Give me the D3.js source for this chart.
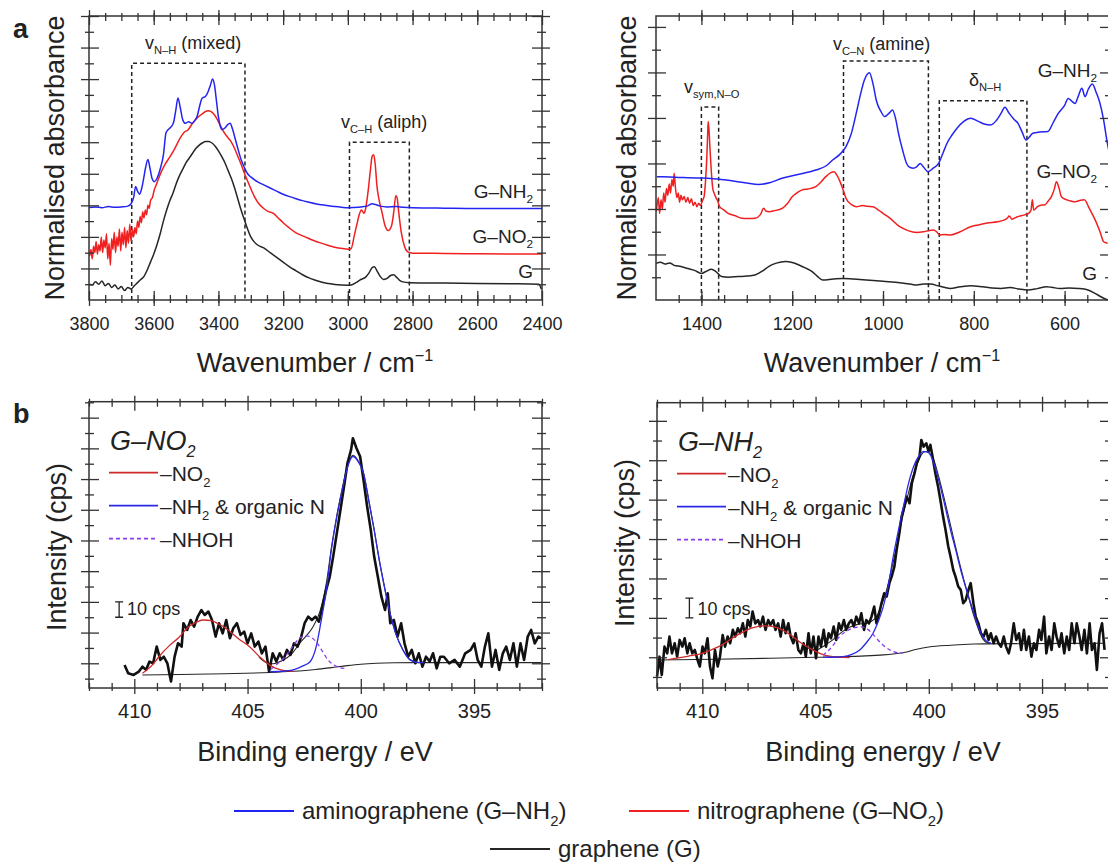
<!DOCTYPE html>
<html>
<head>
<meta charset="utf-8">
<title>FTIR and XPS of graphene derivatives</title>
<style>
body { margin: 0; background: #fff; }
text { font-family: "Liberation Sans", Arial, Helvetica, sans-serif; fill: #222; }
.frame { fill: none; stroke: #333; stroke-width: 1.5px; }
.tk line { stroke: #333; stroke-width: 1.3px; }
.box { fill: none; stroke: #222; stroke-width: 1.5px; stroke-dasharray: 4,3; }
.curve { fill: none; stroke-linejoin: round; }
</style>
</head>
<body>
<script src="https://cdnjs.cloudflare.com/ajax/libs/d3/7.8.5/d3.min.js"></script>
<script>

// ---------- data: FTIR, high wavenumber window (cm-1, normalised absorbance) ----------
var irHighNH2 = [[3800,5.86],[3780,5.9],[3760,5.85],[3740,5.92],[3720,5.88],[3700,5.9],[3680,5.95],[3670,6.1],[3662,6.5],[3656,7.2],[3650,6.9],[3644,6.7],[3638,7.0],[3632,7.6],[3625,8.4],[3618,8.9],[3612,8.4],[3605,7.7],[3598,7.5],[3590,7.7],[3580,8.3],[3570,9.2],[3562,10.6],[3555,10.8],[3545,11.0],[3538,11.3],[3532,12.0],[3525,12.8],[3518,12.2],[3510,11.4],[3502,11.2],[3492,11.3],[3482,11.2],[3472,11.4],[3465,11.7],[3458,12.3],[3450,12.8],[3440,12.9],[3432,13.2],[3425,13.6],[3418,14.0],[3412,13.6],[3406,12.6],[3400,11.6],[3394,11.0],[3388,10.8],[3380,10.9],[3372,11.1],[3364,11.2],[3356,10.8],[3348,10.2],[3340,9.6],[3330,8.9],[3320,8.4],[3310,8.0],[3300,7.8],[3280,7.5],[3260,7.3],[3240,7.1],[3220,6.9],[3200,6.7],[3180,6.55],[3160,6.42],[3140,6.3],[3120,6.2],[3100,6.1],[3080,6.03],[3060,5.97],[3040,5.92],[3020,5.88],[3000,5.85],[2980,5.87],[2960,5.9],[2940,5.95],[2925,6.1],[2915,6.05],[2900,5.95],[2880,5.9],[2850,5.92],[2830,5.88],[2800,5.85],[2700,5.82],[2600,5.8],[2500,5.8],[2400,5.8]];
var irHighNO2 = [[3798,2.8],[3794,3.2],[3790,2.6],[3786,3.4],[3782,3.0],[3778,3.7],[3774,2.9],[3770,3.5],[3766,3.1],[3762,4.0],[3758,3.0],[3754,3.8],[3750,3.3],[3746,4.2],[3742,2.6],[3738,3.6],[3734,2.2],[3730,3.9],[3726,3.2],[3722,4.3],[3718,3.0],[3714,4.0],[3710,3.4],[3706,4.5],[3702,3.1],[3698,4.3],[3694,3.5],[3690,4.6],[3686,3.3],[3682,4.4],[3678,3.6],[3674,4.8],[3670,3.7],[3666,4.5],[3662,4.0],[3658,4.6],[3654,4.2],[3650,5.0],[3646,4.6],[3642,5.3],[3638,4.9],[3634,5.6],[3630,5.2],[3626,5.7],[3622,5.4],[3618,6.0],[3614,5.8],[3610,6.3],[3604,6.5],[3598,7.0],[3594,7.2],[3585,7.7],[3575,8.2],[3565,8.6],[3550,9.07],[3535,9.6],[3520,10.2],[3505,10.65],[3495,10.76],[3480,11.2],[3465,11.55],[3450,11.8],[3440,11.95],[3432,12.0],[3424,11.95],[3415,11.8],[3405,11.5],[3395,11.1],[3385,10.7],[3375,10.4],[3363,10.1],[3350,9.6],[3340,9.1],[3330,8.6],[3319,8.0],[3305,7.3],[3290,6.6],[3275,6.1],[3260,5.8],[3245,5.6],[3231,5.5],[3215,5.2],[3200,4.9],[3180,4.55],[3160,4.25],[3132,4.0],[3110,3.8],[3090,3.65],[3060,3.45],[3030,3.3],[3000,3.22],[2990,3.25],[2980,4.1],[2972,4.8],[2965,5.4],[2958,5.7],[2950,5.5],[2945,5.8],[2938,6.8],[2930,8.3],[2925,9.1],[2920,9.2],[2915,8.5],[2910,7.2],[2903,6.3],[2895,5.6],[2885,4.7],[2875,4.4],[2865,4.7],[2858,5.6],[2852,6.6],[2848,6.5],[2843,5.6],[2835,4.3],[2825,3.4],[2815,3.05],[2800,2.97],[2700,2.95],[2600,2.93],[2500,2.92],[2400,2.92]];
var irHighG = [[3800,1.0],[3790,0.95],[3780,1.15],[3770,1.0],[3760,1.2],[3750,0.9],[3740,1.05],[3730,0.8],[3720,0.95],[3710,0.7],[3700,0.85],[3690,0.6],[3680,0.8],[3670,0.7],[3660,0.9],[3650,1.1],[3640,1.3],[3630,1.5],[3620,1.9],[3610,2.4],[3600,2.9],[3590,3.5],[3580,4.2],[3570,5.0],[3560,5.7],[3550,6.3],[3540,6.8],[3530,7.4],[3520,7.9],[3510,8.3],[3500,8.7],[3490,9.0],[3480,9.3],[3470,9.6],[3460,9.8],[3450,9.95],[3440,10.05],[3430,10.05],[3420,9.95],[3410,9.75],[3400,9.45],[3390,9.1],[3380,8.7],[3370,8.2],[3360,7.7],[3350,7.1],[3340,6.4],[3330,5.7],[3320,5.1],[3310,4.5],[3300,4.0],[3290,3.7],[3280,3.5],[3260,3.3],[3240,3.0],[3220,2.7],[3200,2.4],[3180,2.1],[3160,1.85],[3140,1.6],[3120,1.4],[3100,1.25],[3080,1.12],[3060,1.04],[3040,0.98],[3020,0.95],[3000,0.94],[2990,0.95],[2975,1.1],[2960,1.3],[2945,1.45],[2935,1.7],[2925,2.05],[2918,2.1],[2910,1.85],[2900,1.5],[2890,1.3],[2880,1.35],[2868,1.55],[2858,1.6],[2850,1.45],[2840,1.25],[2830,1.15],[2810,1.1],[2700,1.07],[2600,1.05],[2500,1.03],[2410,1.0],[2402,0.7]];

// ---------- FTIR, low wavenumber window ----------
var irLowNH2 = [[1498,5.42],[1470,5.4],[1440,5.38],[1410,5.36],[1385.6,5.35],[1350,5.28],[1320,5.2],[1300,5.14],[1274,5.08],[1250,5.15],[1222.4,5.35],[1190,5.5],[1148,5.71],[1125,5.9],[1111,6.15],[1095,6.4],[1081.5,6.74],[1070,7.3],[1059,8.2],[1050,9.0],[1041,9.67],[1030,9.99],[1022,9.5],[1015,8.79],[1005,8.3],[996,8.06],[987,8.2],[979,8.35],[972,7.95],[966,7.33],[957,6.6],[948,6.0],[940,5.82],[933,5.79],[926,5.85],[918,6.0],[910,5.82],[901,5.64],[890,5.78],[877.6,6.0],[868,6.45],[859,6.89],[848,7.25],[837,7.55],[822,7.85],[807,7.99],[790,7.85],[775,7.72],[763,7.69],[750,7.9],[740,8.2],[731.5,8.47],[722,8.2],[712,7.95],[703,7.77],[694,7.4],[685,7.03],[678,7.15],[670,7.33],[655,7.38],[637,7.4],[625,7.8],[614,8.2],[600,8.55],[592,8.86],[585,8.75],[577,8.64],[570,8.95],[562,9.3],[555,8.94],[548,9.25],[539,9.49],[530,9.1],[522,8.64],[514,7.9],[507,7.03],[503,6.6]];
var irLowNO2 = [[1499,3.9],[1495,4.5],[1492,3.8],[1489,4.4],[1486,4.0],[1483,4.7],[1480,4.3],[1477,4.9],[1474,4.6],[1471,5.1],[1468,4.7],[1465,5.3],[1462,5.0],[1460,5.57],[1457,4.9],[1454,4.5],[1451,4.7],[1448,4.3],[1445,4.6],[1442,4.4],[1438,4.55],[1434,4.3],[1430,4.5],[1426,4.25],[1422,4.45],[1418,4.15],[1414,4.3],[1410,4.1],[1406,4.25],[1402,4.15],[1398,4.35],[1394,4.55],[1391,5.2],[1388,6.3],[1386,7.4],[1385,7.84],[1383,7.4],[1381,6.6],[1378,5.6],[1375,4.9],[1372,4.7],[1368,4.5],[1364,4.35],[1360,4.1],[1350,3.95],[1341,3.81],[1325,3.7],[1311,3.59],[1296,3.58],[1282,3.59],[1270,3.75],[1263,4.03],[1257,3.9],[1250,3.88],[1240,3.92],[1222,4.03],[1210,4.25],[1200,4.54],[1190,4.7],[1178,4.84],[1165,4.88],[1148,4.98],[1136,5.2],[1126,5.42],[1115,5.6],[1107.5,5.64],[1102,5.5],[1096,5.27],[1088,4.85],[1081.5,4.47],[1070,4.2],[1059,4.1],[1045,4.15],[1035,4.12],[1022,4.1],[1010,3.95],[1000,3.81],[985,3.6],[963,3.22],[945,3.05],[926,2.97],[910,3.0],[889,3.08],[882,3.0],[875.4,2.86],[865,2.88],[851.6,2.86],[830,3.0],[807,3.22],[790,3.3],[770,3.38],[748,3.44],[735,3.5],[726,3.6],[722,3.69],[716,3.55],[705,3.65],[688.5,3.74],[680,3.8],[674,3.95],[671,4.4],[668,3.95],[660,4.1],[650,4.18],[644,4.18],[636,4.35],[629,4.54],[623,4.85],[618,5.2],[612,4.9],[607,4.54],[595,4.4],[586,4.35],[577,4.32],[565,4.38],[556.5,4.4],[545,4.0],[532.7,3.52],[522,3.0],[514,2.56],[505,2.49]];
var irLowG = [[1500,1.61],[1490,1.66],[1480,1.58],[1470,1.63],[1460,1.52],[1445,1.47],[1430,1.38],[1415,1.3],[1400,1.17],[1390,1.25],[1378,1.35],[1368,1.25],[1356,1.03],[1340,1.0],[1319,1.03],[1300,1.05],[1282,1.1],[1265,1.28],[1252,1.47],[1235,1.62],[1215,1.69],[1200,1.65],[1185,1.54],[1170,1.4],[1156,1.25],[1145,1.05],[1133,0.88],[1110,0.92],[1089,0.95],[1065,0.92],[1037,0.88],[1000,0.82],[963,0.76],[940,0.7],[926,0.66],[910,0.7],[896,0.7],[875,0.6],[852,0.51],[830,0.58],[807,0.63],[780,0.58],[760,0.53],[740,0.51],[720,0.55],[700,0.48],[681,0.44],[660,0.5],[640,0.58],[629,0.56],[610,0.5],[590,0.53],[570,0.51],[550,0.45],[533,0.29],[518,0.12],[505,0]];

// dashed band boxes [from, to, top]
var irHighBoxes = [[3668, 3318, 15.0], [2995, 2810, 10.0]];
var irLowBoxes = [[1400, 1362, 8.48], [1087, 900, 10.5], [876, 683, 8.76]];

// ---------- XPS N1s, G-NO2 (binding energy eV, cps above baseline) ----------
var xpsNO2Raw = [[410.43,-1.1],[410.27,-6.5],[410.03,-7.6],[409.80,-5.4],[409.64,-2.2],[409.48,-4.3],[409.33,1.1],[409.17,0],[409.01,10.9],[408.85,2.2],[408.70,4.3],[408.54,0],[408.38,-11.9],[408.22,4.3],[408.07,13.0],[407.91,10.9],[407.83,26.1],[407.67,21.7],[407.51,28.2],[407.36,23.9],[407.20,30.4],[407.04,34.7],[406.89,31.5],[406.73,33.7],[406.57,28.2],[406.41,17.4],[406.26,26.1],[406.10,19.5],[405.94,28.2],[405.78,16.3],[405.63,22.8],[405.47,26.1],[405.31,18.5],[405.15,20.6],[405.00,13.0],[404.84,19.5],[404.68,10.9],[404.52,14.1],[404.37,6.5],[404.21,10.9],[404.05,-5.4],[403.89,6.5],[403.73,1.1],[403.58,6.5],[403.42,2.2],[403.26,8.7],[403.11,5.4],[402.95,13.0],[402.79,10.9],[402.63,17.4],[402.48,26.1],[402.32,30.4],[402.16,28.2],[402.00,30.4],[401.85,27.1],[401.69,36.9],[401.53,47.8],[401.37,56.5],[401.22,69.5],[401.06,84.7],[400.90,99.9],[400.74,115.1],[400.59,130.3],[400.43,139.0],[400.35,146.6],[400.19,140.1],[400.03,134.7],[399.88,119.4],[399.72,102.1],[399.56,86.9],[399.41,69.5],[399.25,56.5],[399.09,43.4],[398.93,34.7],[398.81,45.6],[398.70,26.1],[398.54,28.2],[398.38,17.4],[398.22,26.1],[398.07,13.0],[397.91,4.3],[397.75,8.7],[397.59,0],[397.44,6.5],[397.28,-2.2],[397.12,4.3],[396.96,1.1],[396.81,6.5],[396.65,-3.3],[396.49,4.3],[396.33,4.3],[396.10,0],[395.86,2.2],[395.63,-2.2],[395.39,6.5],[395.15,8.7],[394.99,13.0],[394.84,2.2],[394.68,-2.2],[394.52,10.9],[394.37,19.5],[394.21,-2.2],[394.05,8.7],[393.89,-4.3],[393.73,6.5],[393.58,10.9],[393.42,2.2],[393.26,13.0],[393.11,-2.2],[392.95,13.0],[392.79,2.2],[392.63,17.4],[392.48,21.7],[392.32,13.0],[392.16,17.4],[392.04,16.3]];
var xpsNO2Bg = [[409.64,-7.6],[408,-7.3],[406,-6.8],[404,-6.0],[403,-5.2],[402,-4.0],[401.3,-2.8],[400.6,-1.5],[400,-0.6],[399.3,0],[398.5,0.3],[397.5,0.4],[392.04,0.4]];
var xpsNO2FitNO2 = [[409.64,-6.5],[409.2,-1],[408.85,5.4],[408.45,11.5],[408.07,16.3],[407.59,23.9],[407.2,27.2],[406.96,28.2],[406.6,27.8],[406.33,26.1],[405.86,21.7],[405.4,16],[404.92,10.9],[404.45,4],[403.97,-1.7],[403.6,-4],[403.34,-4.8],[403.0,-5.2]];
var xpsNO2FitNH2 = [[404.0,-5.5],[403.5,-5.2],[403.03,-4.5],[402.6,-2],[402.24,1],[401.95,12],[401.77,26],[401.5,50],[401.3,73.8],[401.05,96],[400.82,113],[400.6,127],[400.35,134.7],[400.1,131],[399.88,123.8],[399.65,106],[399.41,86.9],[399.17,66],[398.93,47.8],[398.7,32],[398.46,19.5],[398.15,9],[397.83,2.2],[397.5,0.6],[397.2,0.4]];
var xpsNO2FitNHOH = [[403.97,-3.9],[403.65,0],[403.34,4.3],[403.0,11],[402.71,16.3],[402.4,17.8],[402.15,16.5],[401.92,13],[401.68,7.5],[401.45,2.2],[401.2,-1],[400.98,-2.6],[400.6,-3.5]];
var xpsNO2Env = [[404.5,4],[404.0,-0.5],[403.5,1.5],[403.0,7],[402.7,13],[402.4,18],[402.1,24],[401.8,34],[401.5,54],[401.3,75],[401.05,97],[400.82,114],[400.6,128],[400.35,135.5],[400.1,131.5],[399.88,124],[399.65,106.5],[399.41,87],[399.17,66],[398.93,48],[398.7,32],[398.46,19.5],[398.15,9],[397.83,2.5],[397.5,0.6]];

// ---------- XPS N1s, G-NH2 ----------
var xpsNH2Raw = [[412.00,-9.8],[411.89,0.3],[411.79,-9.0],[411.67,5.4],[411.55,2.0],[411.45,10.5],[411.34,2.0],[411.22,7.1],[411.11,0.3],[411.00,8.8],[410.88,5.4],[410.78,9.6],[410.66,2.0],[410.56,7.1],[410.44,2.0],[410.33,3.7],[410.21,-1.4],[410.11,-4.7],[409.99,5.4],[409.89,2.0],[409.77,9.6],[409.66,-4.7],[409.55,-10.7],[409.44,3.7],[409.32,-4.7],[409.22,0.3],[409.10,11.3],[409.00,5.4],[408.88,10.5],[408.77,7.1],[408.65,13.9],[408.55,10.5],[408.43,14.7],[408.33,12.2],[408.21,17.2],[408.10,10.5],[407.99,18.9],[407.88,15.6],[407.78,23.2],[407.66,17.2],[407.54,18.9],[407.44,15.6],[407.32,20.6],[407.21,13.9],[407.09,18.9],[406.99,16.4],[406.87,18.9],[406.77,13.9],[406.65,17.2],[406.54,10.5],[406.43,18.9],[406.32,12.2],[406.20,17.2],[406.10,10.5],[405.98,7.1],[405.88,12.2],[405.76,3.7],[405.65,2.0],[405.53,7.1],[405.43,0.3],[405.31,12.2],[405.21,2.0],[405.09,10.5],[404.98,-0.5],[404.87,10.5],[404.76,5.4],[404.64,13.9],[404.54,5.4],[404.42,12.2],[404.32,9.6],[404.20,15.6],[404.09,8.8],[403.97,17.2],[403.87,13.9],[403.75,18.9],[403.65,13.9],[403.53,17.2],[403.42,18.9],[403.31,15.6],[403.20,20.6],[403.08,17.2],[402.98,22.3],[402.86,13.9],[402.76,18.9],[402.64,17.2],[402.53,20.6],[402.41,25.7],[402.31,17.2],[402.19,22.3],[402.09,27.4],[401.97,32.5],[401.86,30.8],[401.74,37.6],[401.64,40.9],[401.52,46.0],[401.42,54.5],[401.30,62.9],[401.20,71.4],[401.08,76.5],[400.97,81.5],[400.85,78.2],[400.75,88.3],[400.63,93.4],[400.53,98.5],[400.41,101.9],[400.33,110.3],[400.23,106.9],[400.11,108.6],[400.01,104.4],[399.93,107.8],[399.81,100.2],[399.71,93.4],[399.59,86.6],[399.49,79.9],[399.37,71.4],[399.26,64.6],[399.14,56.2],[399.04,51.1],[398.92,44.3],[398.82,40.9],[398.70,35.9],[398.59,34.2],[398.48,27.4],[398.37,29.1],[398.25,34.2],[398.15,37.6],[398.03,27.4],[397.93,20.6],[397.81,17.2],[397.70,12.2],[397.58,10.5],[397.48,13.9],[397.36,8.8],[397.26,12.2],[397.14,7.1],[397.03,10.5],[396.92,7.1],[396.81,5.4],[396.69,10.5],[396.59,5.4],[396.47,2.0],[396.37,7.1],[396.25,17.2],[396.14,8.8],[396.02,12.2],[395.92,3.7],[395.80,13.9],[395.70,3.7],[395.58,10.5],[395.47,0.3],[395.36,7.1],[395.25,3.7],[395.13,13.9],[395.03,8.8],[394.91,20.6],[394.81,2.0],[394.69,10.5],[394.58,3.7],[394.46,17.2],[394.36,10.5],[394.24,5.4],[394.14,12.2],[394.02,2.0],[393.91,10.5],[393.80,3.7],[393.69,17.2],[393.57,7.1],[393.47,17.2],[393.35,10.5],[393.25,3.7],[393.13,13.9],[393.02,2.0],[392.90,17.2],[392.80,3.7],[392.68,7.1],[392.58,-6.4],[392.46,12.2],[392.35,17.2],[392.24,3.7]];
var xpsNH2Bg = [[412,-1.4],[409.44,-1],[407,-0.5],[404.98,0],[403,0.6],[402.01,1.2],[401.5,1.8],[401.1,2.4],[400.53,4.1],[400,5.2],[399.04,6.1],[398,6.7],[397.55,6.8],[392.24,7.1]];
var xpsNH2FitNO2 = [[411.5,-1.2],[411.2,-0.6],[410.6,0.6],[410.04,1.9],[409.6,3.8],[409.14,6.2],[408.77,9],[408.4,11.6],[408.0,14],[407.66,15.3],[407.3,15.9],[407.0,15.8],[406.7,15],[406.47,13.9],[406.1,11.3],[405.73,8.0],[405.35,5.2],[404.98,2.9],[404.6,1.1],[404.24,0.3],[403.8,-0.1],[403.5,-0.2]];
var xpsNH2FitNH2 = [[404.68,0.1],[404.2,0],[403.79,0.3],[403.4,1.5],[403.05,3.7],[402.75,7.5],[402.46,12.2],[402.22,18.5],[402.01,25.7],[401.78,37],[401.57,51.1],[401.34,64.5],[401.12,76.5],[400.9,88],[400.67,96.8],[400.45,102],[400.23,104.4],[400.05,104.2],[399.93,102.7],[399.7,95.5],[399.49,86.6],[399.27,76],[399.04,64.6],[398.8,54],[398.59,44.3],[398.37,35.5],[398.15,27.4],[397.93,19.5],[397.7,12.2],[397.48,8.5],[397.26,7.1]];
var xpsNH2FitNHOH = [[404.68,1.0],[404.3,5],[403.94,10.5],[403.55,13.8],[403.2,15.2],[402.98,15.4],[402.76,14.7],[402.53,12.5],[402.31,9.6],[402.0,6],[401.71,3.7],[401.4,2.4],[401.12,2.2]];
var xpsNH2Env = [[405.5,5.5],[404.98,3.7],[404.6,6],[404.24,8.8],[403.87,12.5],[403.5,15.2],[403.1,16.8],[402.76,17.2],[402.5,18.5],[402.31,20.6],[402.1,26],[401.86,34.2],[401.64,45],[401.42,56.2],[401.2,69],[400.97,79.9],[400.75,90],[400.53,97.6],[400.34,102.5],[400.15,104.4],[399.96,103.5],[399.78,100.2],[399.56,91.5],[399.34,81.5],[399.1,70],[398.89,59.6],[398.67,49],[398.45,39.2],[398.22,29.5],[398.0,20.6],[397.8,14],[397.63,9.6],[397.4,7.3],[397.26,7.1]];

// tick labels
var irHighTicks = [3800, 3600, 3400, 3200, 3000, 2800, 2600, 2400];
var irLowTicks = [1400, 1200, 1000, 800, 600];
var xpsTicks = [410, 405, 400, 395];

var BLUE = "#2424f2", RED = "#f02020", BLACK = "#262626";
var FIT_RED = "#d02828", FIT_BLUE = "#2a2ae6", FIT_PURPLE = "#8c3cf0";

var svg = d3.select("body").append("svg")
    .attr("width", 1108)
    .attr("height", 863);

// frame + crossing ticks on all four sides
function frame(g, x, y, xMaj, xMin, yMaj, yMin) {
  var xr = x.range(), yr = y.range();
  var sides = [
    [d3.axisBottom, x, "translate(0," + yr[0] + ")", xMaj, xMin, [6, 9], [3, 5]],
    [d3.axisTop, x, "translate(0," + yr[1] + ")", xMaj, xMin, [6, 9], [3, 5]],
    [d3.axisLeft, y, "translate(" + xr[0] + ",0)", yMaj, yMin, [8, 10], [4, 5]],
    [d3.axisRight, y, "translate(" + xr[1] + ",0)", yMaj, yMin, [8, 10], [4, 5]]
  ];
  sides.forEach(function(s) {
    [[s[3], s[5]], [s[4], s[6]]].forEach(function(t) {
      [t[1][0], -t[1][1]].forEach(function(size) {
        g.append("g").attr("class", "tk").attr("transform", s[2])
          .call(s[0](s[1]).tickValues(t[0]).tickSize(size).tickFormat(""))
          .call(function(a) { a.select(".domain").remove(); });
      });
    });
  });
  g.append("rect").attr("class", "frame")
    .attr("x", xr[0]).attr("y", yr[1])
    .attr("width", xr[1] - xr[0]).attr("height", yr[0] - yr[1]);
}

function xLabels(g, x, y, vals, size) {
  g.append("g").attr("transform", "translate(0," + y.range()[0] + ")")
    .call(d3.axisBottom(x).tickValues(vals).tickSize(0).tickPadding(30 - size * 0.71).tickFormat(d3.format("d")))
    .call(function(a) { a.select(".domain").remove(); })
    .attr("font-size", size)
    .attr("font-family", '"Liberation Sans", Arial, sans-serif')
    .attr("color", "#222");
}

// text with sub/superscripts: parts = [[string, "sub"|"sup"|undefined], ...]
function rich(g, x, y, parts, size, opt) {
  opt = opt || {};
  var t = g.append("text").attr("x", x).attr("y", y)
    .attr("font-size", size)
    .attr("text-anchor", opt.anchor || "start");
  if (opt.italic) t.attr("font-style", "italic");
  var shift = 0;
  parts.forEach(function(p) {
    var target = p[1] === "sub" ? size * 0.28 : p[1] === "sup" ? -size * 0.4 : 0;
    var ts = t.append("tspan").attr("dy", target - shift).text(p[0]);
    if (p[1]) ts.attr("font-size", size * (opt.subScale || 0.62));
    shift = target;
  });
  return t;
}

function yTitle(g, x, y, label) {
  g.append("text").attr("transform", "translate(" + x + "," + y + ") rotate(-90)")
    .attr("text-anchor", "middle").attr("font-size", 27).text(label);
}

function curve(g, x, y, data, color, width, smooth, dash) {
  var p = g.append("path").attr("class", "curve").datum(data)
    .attr("stroke", color).attr("stroke-width", width)
    .attr("d", d3.line().x(function(d) { return x(d[0]); }).y(function(d) { return y(d[1]); })
      .curve(smooth ? d3.curveMonotoneX : d3.curveLinear));
  if (dash) p.attr("stroke-dasharray", dash);
}

function boxes(g, x, y, list) {
  g.selectAll(null).data(list).enter().append("path").attr("class", "box")
    .attr("d", function(b) {
      return "M" + x(b[0]) + "," + y.range()[0] + "V" + y(b[2]) + "H" + x(b[1]) + "V" + y.range()[0];
    });
}

// ================= panel a, left =================
(function() {
  var g = svg.append("g");
  var x = d3.scaleLinear().domain([3800, 2400]).range([89, 542]);
  var y = d3.scaleLinear().domain([0, 18]).range([300, 16]);

  boxes(g, x, y, irHighBoxes);
  curve(g, x, y, irHighG, BLACK, 1.5, true);
  curve(g, x, y, irHighNO2, RED, 1.5, true);
  curve(g, x, y, irHighNH2, BLUE, 1.5, true);

  frame(g, x, y, d3.range(3800, 2399, -200), d3.range(3750, 2400, -50),
        d3.range(2, 18.1, 2), d3.range(1, 18, 2));
  xLabels(g, x, y, irHighTicks, 18);

  g.append("text").attr("x", 13).attr("y", 38).attr("font-size", 27).attr("font-weight", "bold").text("a");
  yTitle(g, 64, 158, "Normalised absorbance");
  rich(g, 315, 372, [["Wavenumber / cm"], ["\u22121", "sup"]], 27, {anchor: "middle", subScale: 0.6});

  rich(g, 533, 198, [["G\u2013NH"], ["2", "sub"]], 19, {anchor: "end"});
  rich(g, 533, 243, [["G\u2013NO"], ["2", "sub"]], 19, {anchor: "end"});
  rich(g, 533, 278, [["G"]], 19, {anchor: "end"});

  rich(g, 145, 49, [["v"], ["N\u2013H", "sub"], [" (mixed)"]], 18);
  rich(g, 341, 128, [["v"], ["C\u2013H", "sub"], [" (aliph)"]], 18);
})();

// ================= panel a, right =================
(function() {
  var g = svg.append("g");
  var x = d3.scaleLinear().domain([1500, 500]).range([656, 1110]);
  var y = d3.scaleLinear().domain([0, 12.48]).range([300, 16]);

  boxes(g, x, y, irLowBoxes);
  curve(g, x, y, irLowG, BLACK, 1.5, true);
  curve(g, x, y, irLowNO2, RED, 1.5, true);
  curve(g, x, y, irLowNH2, BLUE, 1.5, true);

  frame(g, x, y, d3.range(1400, 599, -200), d3.range(1450, 500, -50),
        d3.range(2, 12.1, 2), d3.range(1, 12, 2));
  xLabels(g, x, y, irLowTicks, 18);

  yTitle(g, 636, 158, "Normalised absorbance");
  rich(g, 882, 372, [["Wavenumber / cm"], ["\u22121", "sup"]], 27, {anchor: "middle", subScale: 0.6});

  rich(g, 1097, 77, [["G\u2013NH"], ["2", "sub"]], 19, {anchor: "end"});
  rich(g, 1097, 178, [["G\u2013NO"], ["2", "sub"]], 19, {anchor: "end"});
  rich(g, 1097, 280, [["G"]], 19, {anchor: "end"});

  rich(g, 684, 93, [["v"], ["sym,N\u2013O", "sub"]], 18);
  rich(g, 833, 50, [["v"], ["C\u2013N", "sub"], [" (amine)"]], 18);
  rich(g, 969, 86, [["\u03b4"], ["N\u2013H", "sub"]], 18);
})();

// ================= panel b, both =================
function xpsPanel(left, yTop, yDom, raw, bg, fNO2, fNH2, fNHOH, env, name, bar, titleY) {
  var g = svg.append("g");
  var x = d3.scaleLinear().domain([412, 392]).range([left, left + 453]);
  var y = d3.scaleLinear().domain(yDom).range([688, yTop]);

  curve(g, x, y, bg, BLACK, 1.1, true);
  curve(g, x, y, env, BLACK, 1.1, true);
  curve(g, x, y, raw, "#111", 2.6, false);
  curve(g, x, y, fNO2, FIT_RED, 1.3, true);
  curve(g, x, y, fNH2, FIT_BLUE, 1.3, true);
  curve(g, x, y, fNHOH, FIT_PURPLE, 1.3, true, "4,3");

  var yMax = yDom[1];
  frame(g, x, y, xpsTicks, d3.range(412, 391.5, -1).filter(function(v) { return v % 5 !== 0; }),
        d3.range(0, yMax, 20), d3.range(-10, yMax, 20));
  xLabels(g, x, y, xpsTicks, 20);

  yTitle(g, left - 23, titleY, "Intensity (cps)");
  g.append("text").attr("x", left + 226).attr("y", 761).attr("text-anchor", "middle")
    .attr("font-size", 27).text("Binding energy / eV");

  // sample name and component legend
  rich(g, left + 21, yTop + 48, name, 27, {italic: true, subScale: 0.6});
  var rows = [
    [FIT_RED, null, [["\u2013NO"], ["2", "sub"]]],
    [FIT_BLUE, null, [["\u2013NH"], ["2", "sub"], [" & organic N"]]],
    [FIT_PURPLE, "4,3", [["\u2013NHOH"]]]
  ];
  rows.forEach(function(r, i) {
    var ly = yTop + 71 + i * 33;
    var l = g.append("line").attr("x1", left + 20).attr("x2", left + 69)
      .attr("y1", ly).attr("y2", ly).attr("stroke", r[0]).attr("stroke-width", 1.8);
    if (r[1]) l.attr("stroke-dasharray", r[1]);
    rich(g, left + 71, ly + 8, r[2], 21);
  });

  // 10 cps scale bar
  var bx = x(bar[0]);
  g.append("path").attr("fill", "none").attr("stroke", "#222").attr("stroke-width", 1.3)
    .attr("d", "M" + (bx - 4) + "," + y(bar[1]) + "H" + (bx + 4) +
               "M" + bx + "," + y(bar[1]) + "V" + y(bar[1] + 10) +
               "M" + (bx - 4) + "," + y(bar[1] + 10) + "H" + (bx + 4));
  g.append("text").attr("x", bx + 8).attr("y", y(bar[1] + 1.5)).attr("font-size", 18).text("10 cps");
  return g;
}

var gb1 = xpsPanel(89, 401.7, [-16.1, 170.4], xpsNO2Raw, xpsNO2Bg, xpsNO2FitNO2, xpsNO2FitNH2,
                   xpsNO2FitNHOH, xpsNO2Env, [["G\u2013NO"], ["2", "sub"]], [410.67, 30], 547);
gb1.append("text").attr("x", 13).attr("y", 423).attr("font-size", 27).attr("font-weight", "bold").text("b");
xpsPanel(657, 402.7, [-15.6, 129.2], xpsNH2Raw, xpsNH2Bg, xpsNH2FitNO2, xpsNH2FitNH2,
         xpsNH2FitNHOH, xpsNH2Env, [["G\u2013NH"], ["2", "sub"]], [410.57, 20], 543);

// ================= shared legend =================
var legend = svg.append("g");
[[BLUE, 234, 811, [["aminographene (G\u2013NH"], ["2", "sub"], [")"]]],
 [RED, 629, 811, [["nitrographene (G\u2013NO"], ["2", "sub"], [")"]]],
 [BLACK, 490, 849, [["graphene (G)"]]]].forEach(function(d) {
  legend.append("line").attr("x1", d[1]).attr("x2", d[1] + 60)
    .attr("y1", d[2]).attr("y2", d[2]).attr("stroke", d[0]).attr("stroke-width", 1.8);
  rich(legend, d[1] + 68, d[2] + 8, d[3], 24);
});

</script>
</body>
</html>
